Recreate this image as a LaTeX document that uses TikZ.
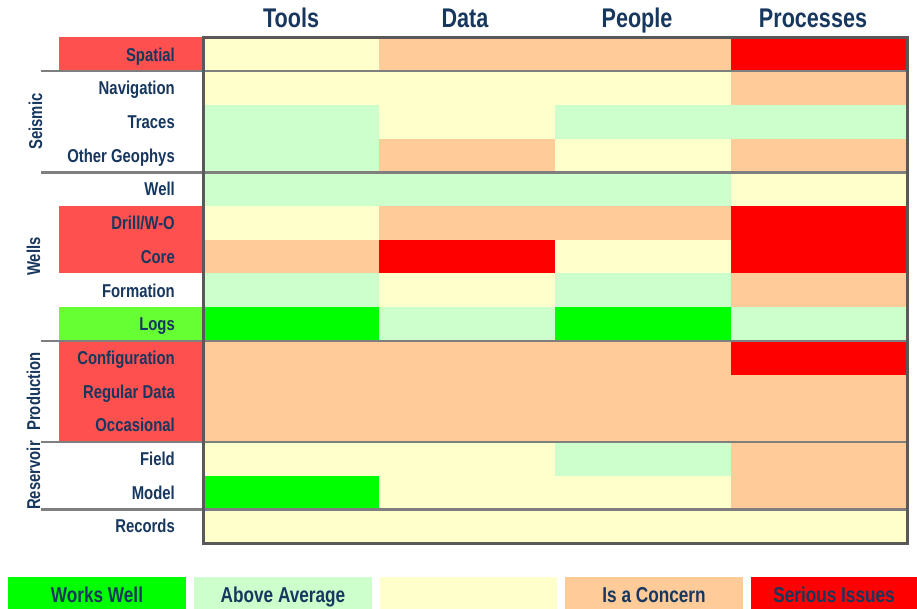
\documentclass[tikz,border=0pt]{standalone}
\usepackage{fontspec}
\setmainfont{Liberation Sans}
\newfontfamily\nfont[FakeStretch=0.8]{Liberation Sans}
\definecolor{cY}{HTML}{FFFFCC}
\definecolor{cP}{HTML}{FFCC99}
\definecolor{cR}{HTML}{FF0000}
\definecolor{cG}{HTML}{00FF00}
\definecolor{cL}{HTML}{CCFFCC}
\definecolor{lred}{HTML}{FF5050}
\definecolor{lgreen}{HTML}{66FF33}
\definecolor{navy}{HTML}{17375E}
\definecolor{sepgray}{HTML}{7F7F7F}
\definecolor{bordergray}{HTML}{595959}
\begin{document}
\begin{tikzpicture}[x=1pt,y=-1pt,
  rowlab/.style={text=navy, font=\nfont\bfseries\fontsize{18.6}{20}\selectfont, inner sep=0pt, anchor=base east},
  grplab/.style={text=navy, font=\nfont\bfseries\fontsize{18.6}{20}\selectfont, inner sep=0pt, anchor=base, rotate=90},
  hdr/.style={text=navy, font=\nfont\bfseries\fontsize{27}{30}\selectfont, inner sep=0pt, anchor=base},
  legbox/.style={text=navy, font=\nfont\bfseries\fontsize{21.5}{24}\selectfont, inner sep=0pt,
    minimum height=32pt, text height=18pt, text depth=0pt, anchor=center},
  sepline/.style={draw=sepgray, line width=2.6pt},
  gridborder/.style={draw=bordergray, line width=3pt}]
\useasboundingbox (0,0) rectangle (917,609);
\fill[white] (0,0) rectangle (917,609);
% label backgrounds
\fill[lred] (59,37.5) rectangle (203,71.2);
\fill[lred] (59,206) rectangle (203,273.4);
\fill[lgreen] (59,307.1) rectangle (203,340.8);
\fill[lred] (59,340.8) rectangle (203,441.9);
% cells
\foreach \r/\a/\b/\c/\d in {0/Y/P/P/R,1/Y/Y/Y/P,2/L/Y/L/L,3/L/P/Y/P,4/L/L/L/Y,5/Y/P/P/R,6/P/R/Y/R,7/L/Y/L/P,8/G/L/G/L,9/P/P/P/R,10/P/P/P/P,11/P/P/P/P,12/Y/Y/L/P,13/G/Y/Y/P,14/Y/Y/Y/Y}{
  \fill[fill=c\a] (203,{37.5+33.7*\r}) rectangle ++(176,33.7);
  \fill[fill=c\b] (379,{37.5+33.7*\r}) rectangle ++(176,33.7);
  \fill[fill=c\c] (555,{37.5+33.7*\r}) rectangle ++(176,33.7);
  \fill[fill=c\d] (731,{37.5+33.7*\r}) rectangle ++(176,33.7);
}
% row labels
\foreach \r/\t in {0/Spatial,1/Navigation,2/Traces,3/Other Geophys,4/Well,5/{Drill/W-O},6/Core,7/Formation,8/Logs,9/Configuration,10/Regular Data,11/Occasional,12/Field,13/Model,14/Records}{
  \node[rowlab] (r\r) at (175,{37.5+33.7*\r+16.85+6.8}) {\t};
}
% group labels
\node[grplab] (gS) at (42,121.5) {Seismic};
\node[grplab] (gW) at (40,256.5) {Wells};
\node[grplab] (gP) at (40,391.5) {Production};
\node[grplab] (gR) at (40,475.5) {Reservoir};
% separators
\foreach \yy in {71.2,172.3,340.8,441.9,509.3}{
  \draw[sepline] (41,\yy) -- (908,\yy);
}
% border
\draw[gridborder] (203,37.5) rectangle (907,543.5);
% headers
\node[hdr] (hT) at (291,27.5) {Tools};
\node[hdr] (hD) at (465,27.5) {Data};
\node[hdr] (hP) at (637,27.5) {People};
\node[hdr] (hR) at (813,27.5) {Processes};
% legend
\node[legbox, fill=cG, minimum width=178pt] (k1) at (97,593) {Works Well};
\node[legbox, fill=cL, minimum width=178pt] (k2) at (283,593) {Above Average};
\node[legbox, fill=cY, minimum width=177pt] (k3) at (468.5,593) {};
\node[legbox, fill=cP, minimum width=178pt] (k4) at (654,593) {Is a Concern};
\node[legbox, fill=cR, minimum width=166pt] (k5) at (834,593) {Serious Issues};
\end{tikzpicture}
\end{document}
